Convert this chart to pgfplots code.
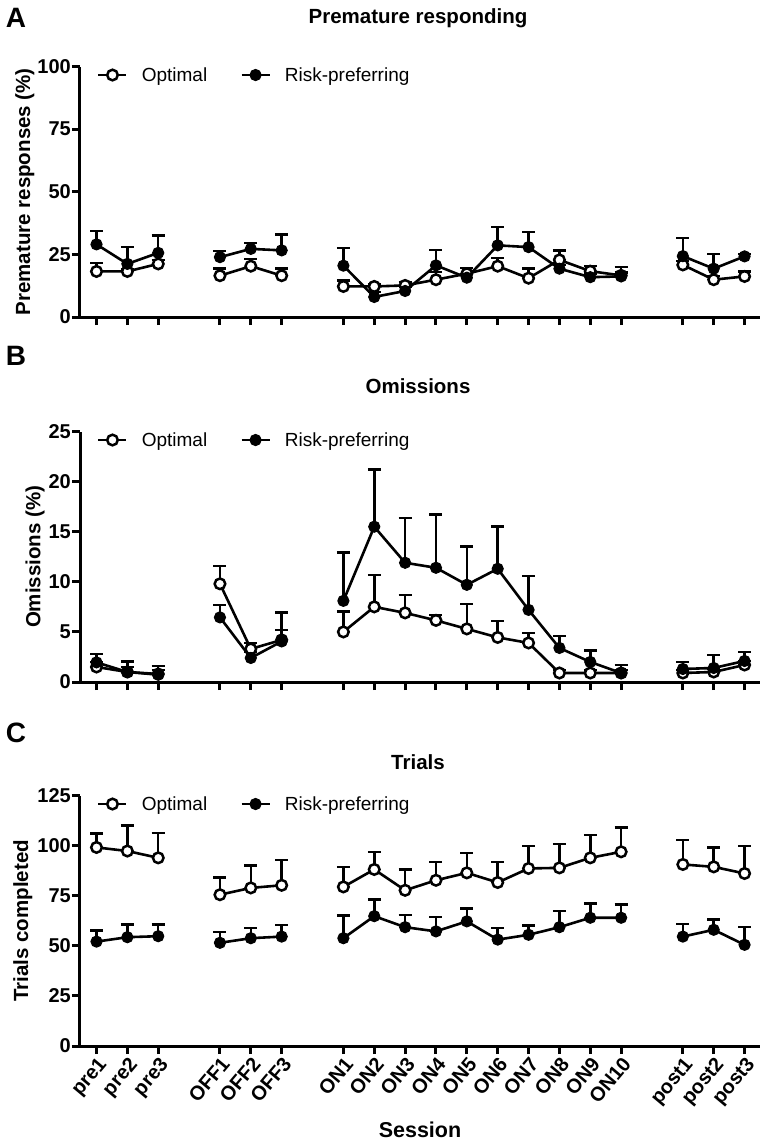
\documentclass[border=0pt]{standalone}
\usepackage{fontspec}
\setmainfont{Liberation Sans}
\usepackage{pgfplots}
\usepackage{pgfplotstable}
\pgfplotsset{compat=1.18}

\pgfplotstableread{
x  oy   oe   ry   re
0  18.2 3.4  29.0 5.3
1  18.2 1.0  21.2 6.7
2  21.2 1.5  25.6 6.9
3  nan  nan  nan  nan
4  16.5 2.8  23.9 2.4
5  20.3 2.8  27.2 2.4
6  16.5 2.8  26.6 6.3
7  nan  nan  nan  nan
8  12.2 2.4  20.5 7.1
9  12.2 1.0  8.0  2.0
10 12.6 1.3  10.4 1.5
11 14.9 3.0  20.6 6.2
12 17.3 2.2  15.7 1.5
13 20.3 3.2  28.6 7.3
14 15.5 3.8  27.9 6.0
15 22.8 3.8  19.3 1.5
16 18.3 2.0  15.9 1.5
17 16.6 3.3  16.2 1.5
18 nan  nan  nan  nan
19 20.8 1.5  24.3 7.2
20 14.9 1.5  19.3 5.9
21 16.2 2.0  24.2 1.0
}\dataA

\pgfplotstableread{
x  oy   oe   ry   re
0  1.5  0.5  1.96 0.85
1  1.0  0.5  1.0  1.06
2  0.8  0.4  0.73 0.87
3  nan  nan  nan  nan
4  9.8  1.8  6.45 1.25
5  3.3  0.6  2.4  0.6
6  4.2  1.0  4.05 2.9
7  nan  nan  nan  nan
8  5.0  2.05 8.1  4.8
9  7.5  3.2  15.5 5.7
10 6.9  1.8  11.9 4.45
11 6.15 0.55 11.4 5.3
12 5.3  2.5  9.7  3.8
13 4.45 1.65 11.3 4.2
14 3.9  1.0  7.2  3.4
15 0.9  0.3  3.4  1.2
16 0.9  0.3  2.0  1.15
17 0.9  0.3  0.9  0.8
18 nan  nan  nan  nan
19 0.9  0.3  1.3  0.7
20 1.0  0.3  1.4  1.3
21 1.7  0.4  2.1  0.9
}\dataB

\pgfplotstableread{
x  oy   oe   ry   re
0  99.1 7.0  52.1 5.6
1  97.3 12.7 54.3 6.4
2  93.9 12.5 54.8 5.9
3  nan  nan  nan  nan
4  75.5 8.5  51.5 5.3
5  78.9 11.2 53.8 5.2
6  80.2 12.5 54.6 5.9
7  nan  nan  nan  nan
8  79.4 10.0 53.8 11.4
9  88.1 8.8  64.8 8.2
10 77.7 10.5 59.3 6.2
11 82.7 9.2  57.2 7.1
12 86.4 10.0 62.2 6.3
13 81.6 10.3 53.1 5.9
14 88.6 11.3 55.5 4.7
15 88.9 11.9 59.3 8.0
16 93.9 11.4 64.0 7.0
17 96.9 12.2 64.0 6.7
18 nan  nan  nan  nan
19 90.6 12.2 54.6 6.4
20 89.4 9.7  58.0 5.2
21 86.1 13.8 50.5 8.8
}\dataC

\newcommand{\tickfont}{\fontsize{20}{22}\selectfont\bfseries}
\newcommand{\labfont}{\fontsize{20.5}{22}\selectfont\bfseries}
\pgfplotsset{
  prism/.style={
    scale only axis, width=680pt, height=250.5pt,
    xmin=-0.535, xmax=21.5,
    axis lines*=left,
    axis line style={line width=3pt, black},
    tick align=outside, major tick length=8pt,
    every tick/.style={line width=3pt, black},
    xtick={0,1,2,4,5,6,8,9,10,11,12,13,14,15,16,17,19,20,21},
    xticklabels={},
    ticklabel style={font=\tickfont},
    yticklabel style={inner sep=1pt},
    /pgf/number format/assume math mode=true,
    clip=false,
    unbounded coords=jump,
    every axis y label/.style={at={(axis description cs:-0.081,0.5)}, rotate=90, anchor=center, font=\labfont},
    legend style={at={(axis description cs:0.025,0.966)}, anchor=west, draw=none, fill=none,
      font=\fontsize{19}{21}\selectfont, inner sep=0pt, legend columns=2,
      /tikz/every odd column/.append style={column sep=12pt},
      /tikz/every even column/.append style={column sep=31pt}},
    legend cell align=left,
    legend image code/.code={\draw[mark repeat=2,mark phase=2,#1] plot coordinates {(0pt,0pt) (14pt,0pt) (28pt,0pt)};},
  },
  opt/.style={black, line width=2.6pt, mark=*, mark size=5.3pt,
    mark options={fill=white, draw=black, line width=2.5pt},
    error bars/.cd, y dir=plus, y explicit,
    error bar style={line width=2.5pt, black},
    error mark options={rotate=90, mark size=6.5pt, line width=2.5pt, black}},
  risk/.style={black, line width=2.6pt, mark=*, mark size=5.6pt,
    mark options={fill=black, draw=black, line width=1pt},
    error bars/.cd, y dir=plus, y explicit,
    error bar style={line width=2.5pt, black},
    error mark options={rotate=90, mark size=6.5pt, line width=2.5pt, black}},
}

\begin{document}
\begin{tikzpicture}
\useasboundingbox (0,0) rectangle (766pt,-1146pt);

% Panel A
\node[font=\fontsize{28}{30}\selectfont\bfseries] at (16pt,-18pt) {A};
\node[font=\labfont] at (418pt,-18pt) {Premature responding};
\begin{axis}[prism, at={(80pt,-317pt)}, anchor=south west,
  ymin=0, ymax=100, ytick={0,25,50,75,100},
  ylabel={Premature responses (\%)}]
\addplot[opt] table[x=x, y=oy, y error=oe] {\dataA};
\addlegendentry{Optimal}
\addplot[risk] table[x=x, y=ry, y error=re] {\dataA};
\addlegendentry{Risk-preferring}
\end{axis}

% Panel B
\node[font=\fontsize{28}{30}\selectfont\bfseries] at (16pt,-356pt) {B};
\node[font=\labfont] at (418pt,-386pt) {Omissions};
\begin{axis}[prism, at={(80pt,-682pt)}, anchor=south west,
  ymin=0, ymax=25, ytick={0,5,10,15,20,25},
  ylabel={Omissions (\%)},
  every axis y label/.style={at={(axis description cs:-0.066,0.5)}, rotate=90, anchor=center, font=\labfont}]
\addplot[opt] table[x=x, y=oy, y error=oe] {\dataB};
\addlegendentry{Optimal}
\addplot[risk] table[x=x, y=ry, y error=re] {\dataB};
\addlegendentry{Risk-preferring}
\end{axis}

% Panel C
\node[font=\fontsize{28}{30}\selectfont\bfseries] at (16pt,-733pt) {C};
\node[font=\labfont] at (418pt,-762pt) {Trials};
\begin{axis}[prism, at={(80pt,-1046pt)}, anchor=south west,
  ymin=0, ymax=125, ytick={0,25,50,75,100,125},
  ylabel={Trials completed},
  every axis y label/.style={at={(axis description cs:-0.084,0.5)}, rotate=90, anchor=center, font=\labfont},
  xticklabels={pre1,pre2,pre3,OFF1,OFF2,OFF3,ON1,ON2,ON3,ON4,ON5,ON6,ON7,ON8,ON9,ON10,post1,post2,post3},
  xticklabel style={rotate=50, anchor=north east, inner sep=1pt}]
\addplot[opt] table[x=x, y=oy, y error=oe] {\dataC};
\addlegendentry{Optimal}
\addplot[risk] table[x=x, y=ry, y error=re] {\dataC};
\addlegendentry{Risk-preferring}
\end{axis}

\node[font=\fontsize{21.5}{23}\selectfont\bfseries] at (420pt,-1130pt) {Session};
\end{tikzpicture}
\end{document}
